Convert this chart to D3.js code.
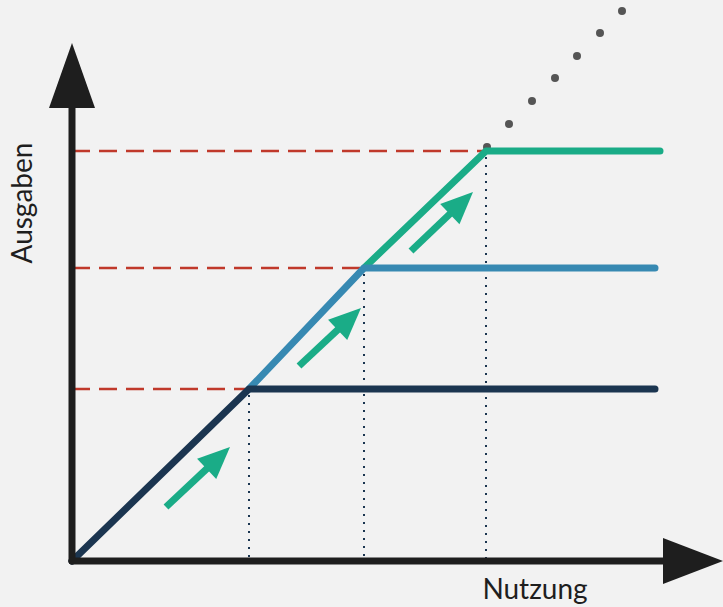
<!DOCTYPE html>
<html><head><meta charset="utf-8">
<script src="https://cdn.jsdelivr.net/npm/d3@7"></script>
<style>html,body{margin:0;padding:0;background:#f2f2f2;}svg{display:block;}</style>
</head><body>
<script>
// Data (units: usage on x, spend on y)
const tierNames = ["Stufe 1", "Stufe 2", "Stufe 3"];
const tierStartX = [0, 17.7, 29.2];
const tierStartY = [0, 17.2, 29.3];
const tierKinkX = [17.7, 29.2, 41.4];
const tierCapY = [17.2, 29.3, 41.0];
const tierEndX = [58.3, 58.3, 58.8];
const tierColors = ["#1b3550", "#3789b2", "#1aac87"];
const trendDotsX = [41.5, 43.7, 46.0, 48.3, 50.5, 52.8, 55.0];
const trendDotsY = [41.4, 43.7, 46.0, 48.3, 50.5, 52.8, 55.0];
const arrowFromX = [9.4, 22.7, 33.9];
const arrowFromY = [5.4, 19.5, 31.0];
const arrowToX = [15.8, 28.9, 40.1];
const arrowToY = [11.4, 25.3, 36.9];
const axisLabels = ["Nutzung", "Ausgaben"];

const W = 723, H = 607;
const svg = d3.select("body").append("svg").attr("width", W).attr("height", H);
svg.append("rect").attr("width", W).attr("height", H).attr("fill", "#f2f2f2");

const x = d3.scaleLinear().domain([0, 65]).range([72, 722]);
const y = d3.scaleLinear().domain([0, 56]).range([561, 1]);

// red dashed reference lines
tierCapY.forEach((c, i) => {
  svg.append("line").attr("x1", x(0)).attr("x2", x(tierKinkX[i]))
    .attr("y1", y(c)).attr("y2", y(c))
    .attr("stroke", "#c0392b").attr("stroke-width", 2.5)
    .attr("stroke-dasharray", "18,9");
});
// vertical dotted lines
tierKinkX.forEach((k, i) => {
  svg.append("line").attr("x1", x(k)).attr("x2", x(k))
    .attr("y1", y(tierCapY[i]) + 6).attr("y2", y(0))
    .attr("stroke", "#1b3550").attr("stroke-width", 2)
    .attr("stroke-dasharray", "2,6");
});

// trend dots
trendDotsX.forEach((d, i) => {
  svg.append("circle").attr("cx", x(d)).attr("cy", y(trendDotsY[i])).attr("r", 4).attr("fill", "#555555");
});

// tier lines (draw highest tier first so lower joins overlay correctly)
const line = d3.line().x(d => x(d[0])).y(d => y(d[1]));
[2, 1, 0].forEach(i => {
  svg.append("path")
    .attr("d", line([[tierStartX[i], tierStartY[i]], [tierKinkX[i], tierCapY[i]], [tierEndX[i], tierCapY[i]]]))
    .attr("fill", "none").attr("stroke", tierColors[i]).attr("stroke-width", 7)
    .attr("stroke-linecap", "round").attr("stroke-linejoin", "round");
});

// green arrows
arrowFromX.forEach((fx, i) => {
  const x1 = x(fx), y1 = y(arrowFromY[i]), x2 = x(arrowToX[i]), y2 = y(arrowToY[i]);
  const ang = Math.atan2(y2 - y1, x2 - x1);
  const headLen = 32, headHalf = 14;
  const bx = x2 - headLen * Math.cos(ang), by = y2 - headLen * Math.sin(ang);
  svg.append("line").attr("x1", x1).attr("y1", y1).attr("x2", bx + 4 * Math.cos(ang)).attr("y2", by + 4 * Math.sin(ang))
    .attr("stroke", "#1aac87").attr("stroke-width", 7);
  const px = -Math.sin(ang), py = Math.cos(ang);
  svg.append("path")
    .attr("d", `M${x2},${y2}L${bx + headHalf * px},${by + headHalf * py}L${bx - headHalf * px},${by - headHalf * py}Z`)
    .attr("fill", "#1aac87");
});

// axes
const axisColor = "#1e1e1e";
svg.append("line").attr("x1", x(0)).attr("x2", x(0)).attr("y1", y(0)).attr("y2", 106)
  .attr("stroke", axisColor).attr("stroke-width", 7).attr("stroke-linecap", "round");
svg.append("line").attr("x1", x(0)).attr("x2", 665).attr("y1", y(0)).attr("y2", y(0))
  .attr("stroke", axisColor).attr("stroke-width", 7).attr("stroke-linecap", "round");
svg.append("path").attr("d", `M${x(0)},43L${x(0) + 23},108L${x(0) - 23},108Z`).attr("fill", axisColor);
svg.append("path").attr("d", `M723,${y(0)}L663,${y(0) - 23}L663,${y(0) + 23}Z`).attr("fill", axisColor);

// labels
svg.append("text").attr("x", 535).attr("y", 599).attr("text-anchor", "middle")
  .attr("font-family", "Lato, sans-serif").attr("font-size", 28).attr("fill", "#1e1e1e").text(axisLabels[0]);
svg.append("text").attr("transform", "translate(32,203) rotate(-90)").attr("text-anchor", "middle")
  .attr("font-family", "Lato, sans-serif").attr("font-size", 28).attr("fill", "#1e1e1e").text(axisLabels[1]);
</script>
</body></html>
